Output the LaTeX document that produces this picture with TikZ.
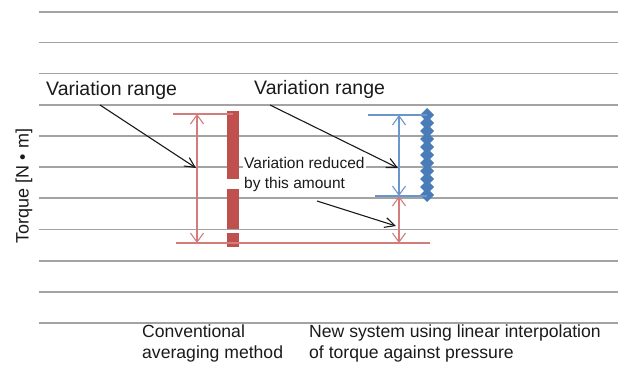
\documentclass[tikz,border=0pt]{standalone}
\usepackage{fontspec}
\setmainfont{Liberation Sans}
\usetikzlibrary{arrows.meta}
\definecolor{gridgray}{HTML}{A3A3A3}
\definecolor{barred}{HTML}{C0504D}
\definecolor{linered}{HTML}{D27C7C}
\definecolor{lineblue}{HTML}{6A96CC}
\definecolor{dotblue}{HTML}{4A7DB8}
\definecolor{txt}{HTML}{1A1A1A}
\tikzset{
  gridline/.style={draw=gridgray, line width=1.1pt},
  lbl/.style={inner sep=0pt, text=txt, font=\fontsize{19.5}{22}\selectfont},
  smalllbl/.style={inner sep=1pt, text=txt, fill=white, align=left, font=\fontsize{15.5}{20}\selectfont},
  catlbl/.style={inner sep=0pt, text=txt, align=left, font=\fontsize{17.6}{21}\selectfont},
  ylbl/.style={inner sep=0pt, text=txt, font=\fontsize{18}{21}\selectfont},
  rline/.style={draw=linered, line width=1.1pt},
  bline/.style={draw=lineblue, line width=1.1pt},
  rdbl/.style={rline, {Straight Barb[length=9pt,width=13pt]}-{Straight Barb[length=9pt,width=13pt]}},
  bdbl/.style={bline, {Straight Barb[length=9pt,width=13pt]}-{Straight Barb[length=9pt,width=13pt]}},
  pointer/.style={draw=txt, line width=1.1pt, -{Straight Barb[length=10pt,width=10pt]}},
  diam/.style={fill=dotblue, draw=none}
}
\begin{document}
\begin{tikzpicture}[x=1pt,y=-1pt]
\useasboundingbox (0,0) rectangle (618,367);
% grid
\foreach \y in {12,42.5,73.5,105,136,167,198,229.5,261,292,323}
  \draw[gridline] (39,\y) -- (618,\y);
% conventional red bar
\fill[barred] (227,111) rectangle (239,179);
\fill[barred] (227,189) rectangle (239,229);
\fill[barred] (227,233) rectangle (239,247);
% red range lines
\coordinate (rtl) at (173,114);
\coordinate (rtr) at (233,114);
\coordinate (rbl) at (176,243);
\coordinate (rbr) at (430,243);
\draw[rline] (rtl) -- (rtr);
\draw[rline] (rbl) -- (rbr);
\coordinate (ra1) at (197,114);
\coordinate (ra2) at (197,243);
\draw[rdbl] (ra1) -- (ra2);
% blue series
\foreach \y in {115,123,131,139,147,155,163,171,179,187,195}
  \fill[diam] (427,\y-7) -- (434,\y) -- (427,\y+7) -- (420,\y) -- cycle;
\coordinate (btl) at (368,115);
\coordinate (btr) at (427,115);
\coordinate (bbl) at (375,196);
\coordinate (bbr) at (427,196);
\draw[bline] (btl) -- (btr);
\draw[bline] (bbl) -- (bbr);
\coordinate (ba1) at (399,115);
\coordinate (ba2) at (399,196);
\draw[bdbl] (ba1) -- (ba2);
\coordinate (ra3) at (399,196);
\coordinate (ra4) at (399,243);
\draw[rdbl] (ra3) -- (ra4);
% labels
\node[lbl, anchor=west] (vr1) at (46,90) {Variation range};
\node[lbl, anchor=west] (vr2) at (254,89) {Variation range};
\node[smalllbl, anchor=north west] (vred) at (243,156) {Variation reduced\\by this amount};
\coordinate (p1s) at (100,105);
\coordinate (p1e) at (196,168);
\coordinate (p2s) at (270,105);
\coordinate (p2e) at (398,168);
\coordinate (p3s) at (317,201);
\coordinate (p3e) at (396,226);
\draw[pointer] (p1s) -- (p1e);
\draw[pointer] (p2s) -- (p2e);
\draw[pointer] (p3s) -- (p3e);
\node[catlbl, anchor=north west] (c1) at (142,325) {Conventional\\averaging method};
\node[catlbl, anchor=north west] (c2) at (309,325) {New system using linear interpolation\\of torque against pressure};
\node[ylbl, rotate=90] (ylab) at (24,186) {Torque [N • m]};
\end{tikzpicture}
\end{document}
